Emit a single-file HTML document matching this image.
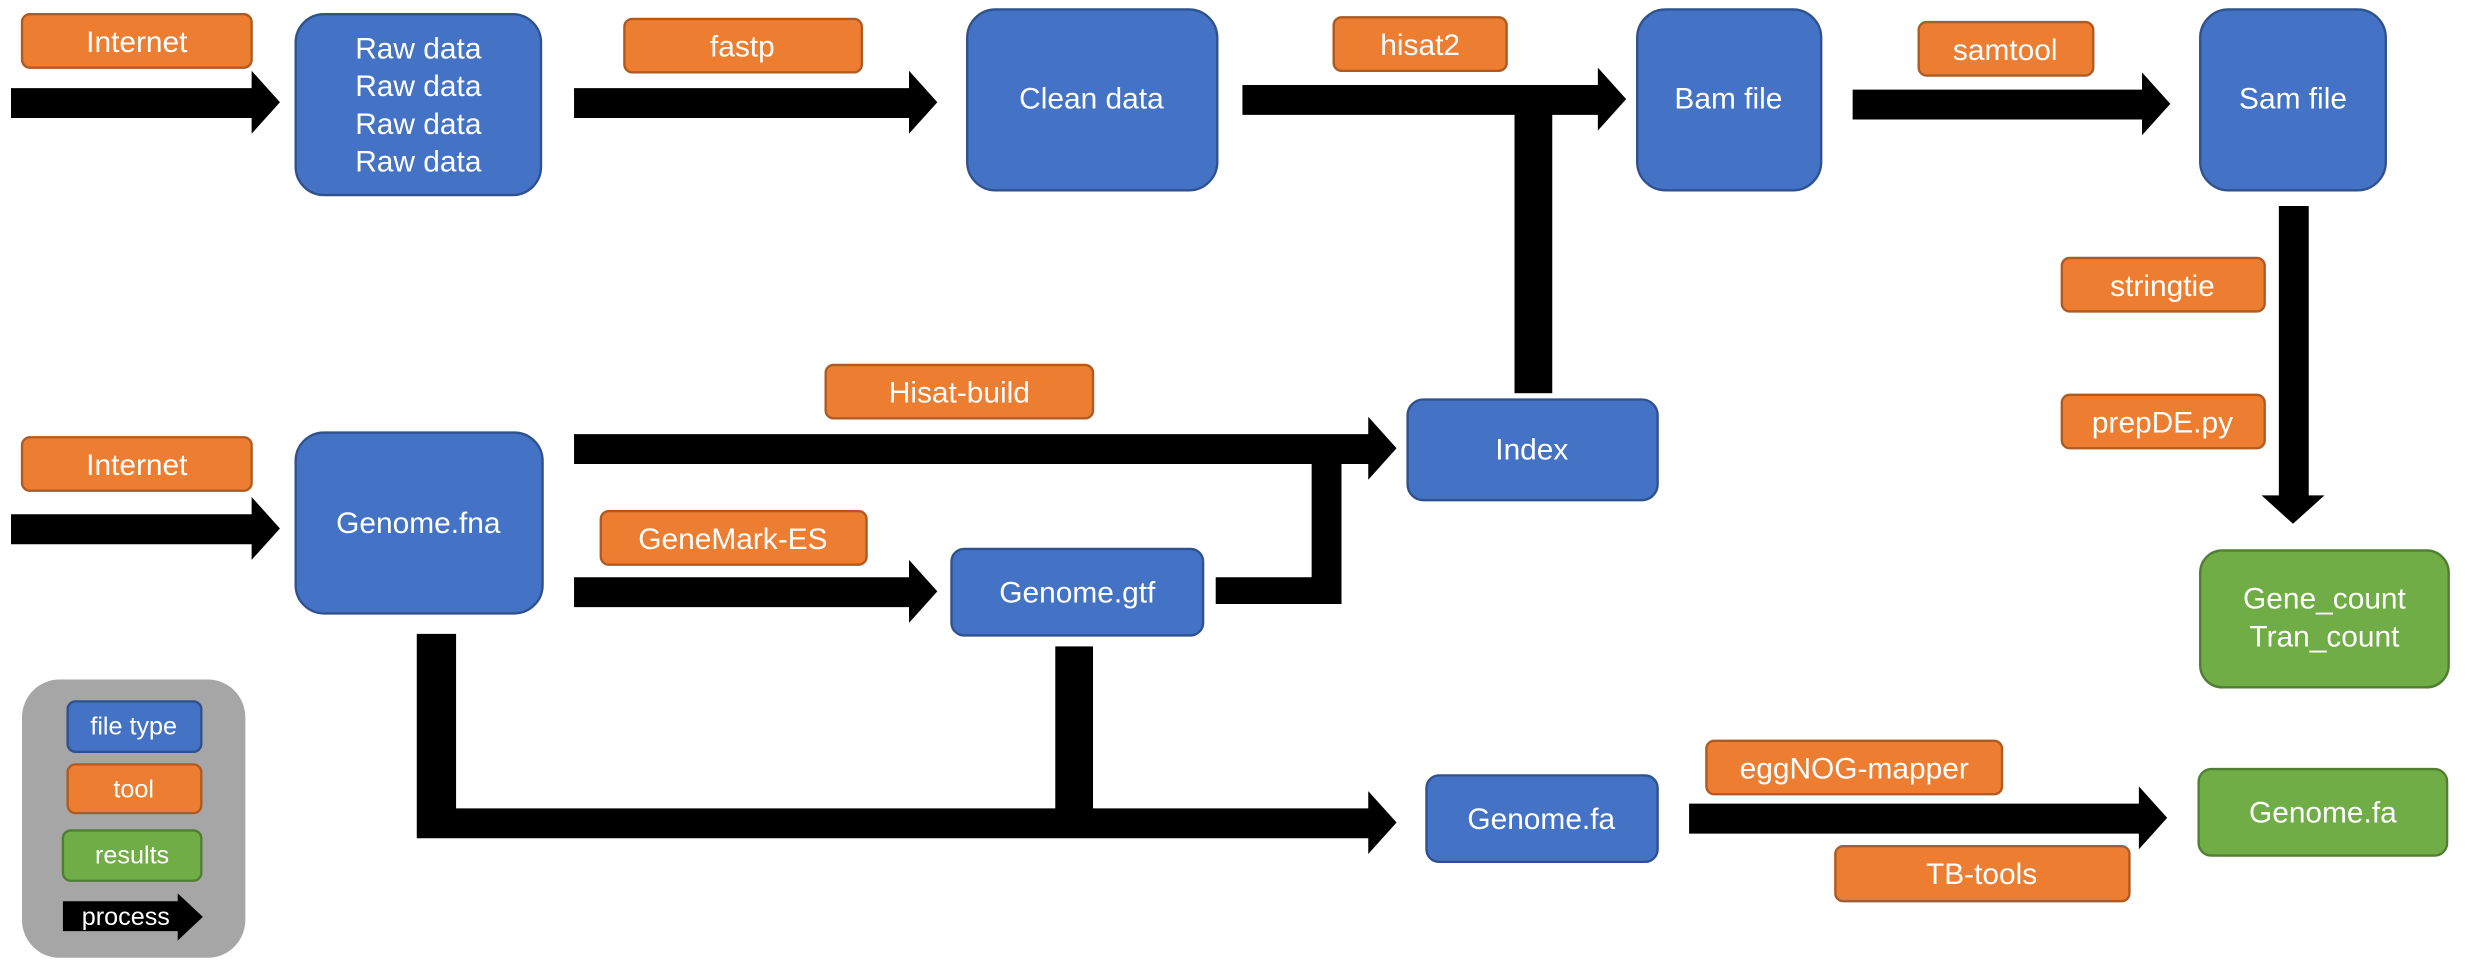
<!DOCTYPE html>
<html><head><meta charset="utf-8"><style>
html,body{margin:0;padding:0;background:#fff;}
svg{display:block;}
text{font-family:"Liberation Sans Narrow","Liberation Sans",sans-serif;fill:#fff;text-anchor:middle;dominant-baseline:central;}
.b{fill:#4472C4;stroke:#2F528F;stroke-width:1.5;}
.o{fill:#ED7D31;stroke:#AE5A21;stroke-width:1.5;}
.g{fill:#70AD47;stroke:#507E32;stroke-width:1.5;}
</style></head><body>
<svg width="2466" height="972" viewBox="0 0 1568 618" xmlns="http://www.w3.org/2000/svg">
<g font-size="19">
<!-- arrows -->
<g fill="#000">
<polygon points="7,56 160,56 160,45 178,65 160,85 160,75 7,75"/>
<polygon points="365,56 578,56 578,45 596,65 578,85 578,75 365,75"/>
<polygon points="790,54 1016,54 1016,43 1034,63 1016,83 1016,73 790,73"/>
<rect x="963" y="63" width="24" height="187"/>
<polygon points="1178,57 1362,57 1362,46 1380,66 1362,86 1362,76 1178,76"/>
<polygon points="1449,131 1468,131 1468,315 1478,315 1458,333 1438,315 1449,315"/>
<polygon points="365,276 870,276 870,265 888,285 870,305 870,295 365,295"/>
<polygon points="7,327 160,327 160,316 178,336 160,356 160,346 7,346"/>
<polygon points="365,367 578,367 578,356 596,376 578,396 578,386 365,386"/>
<polygon points="773,367 834,367 834,290 853,290 853,384 773,384"/>
<polygon points="265,403 290,403 290,514 870,514 870,503 888,523 870,543 870,533 265,533"/>
<rect x="671" y="411" width="24" height="105"/>
<polygon points="1074,511 1360,511 1360,500 1378,520 1360,540 1360,530 1074,530"/>
</g>
<!-- boxes -->
<rect class="o" x="14" y="9" width="146" height="34" rx="5"/><text x="87" y="27">Internet</text>
<rect class="b" x="188" y="9" width="156" height="115" rx="18"/>
<text x="266" y="31">Raw data</text><text x="266" y="55">Raw data</text><text x="266" y="79">Raw data</text><text x="266" y="103">Raw data</text>
<rect class="o" x="397" y="12" width="151" height="34" rx="5"/><text x="472" y="30">fastp</text>
<rect class="b" x="615" y="6" width="159" height="115" rx="18"/><text x="694" y="63">Clean data</text>
<rect class="o" x="848" y="11" width="110" height="34" rx="5"/><text x="903" y="29">hisat2</text>
<rect class="b" x="1041" y="6" width="117" height="115" rx="18"/><text x="1099" y="63">Bam file</text>
<rect class="o" x="1220" y="14" width="111" height="34" rx="5"/><text x="1275" y="32">samtool</text>
<rect class="b" x="1399" y="6" width="118" height="115" rx="18"/><text x="1458" y="63">Sam file</text>
<rect class="o" x="1311" y="164" width="129" height="34" rx="5"/><text x="1375" y="182">stringtie</text>
<rect class="o" x="1311" y="251" width="129" height="34" rx="5"/><text x="1375" y="269">prepDE.py</text>
<rect class="g" x="1399" y="350" width="158" height="87" rx="14"/><text x="1478" y="381">Gene_count</text><text x="1478" y="405">Tran_count</text>
<rect class="o" x="525" y="232" width="170" height="34" rx="5"/><text x="610" y="250">Hisat-build</text>
<rect class="b" x="895" y="254" width="159" height="64" rx="10"/><text x="974" y="286">Index</text>
<rect class="o" x="14" y="278" width="146" height="34" rx="5"/><text x="87" y="296">Internet</text>
<rect class="b" x="188" y="275" width="157" height="115" rx="18"/><text x="266" y="333">Genome.fna</text>
<rect class="o" x="382" y="325" width="169" height="34" rx="5"/><text x="466" y="343">GeneMark-ES</text>
<rect class="b" x="605" y="349" width="160" height="55" rx="8"/><text x="685" y="377">Genome.gtf</text>
<rect class="b" x="907" y="493" width="147" height="55" rx="8"/><text x="980" y="521">Genome.fa</text>
<rect class="o" x="1085" y="471" width="188" height="34" rx="5"/><text x="1179" y="489">eggNOG-mapper</text>
<rect class="o" x="1167" y="538" width="187" height="35" rx="5"/><text x="1260" y="556">TB-tools</text>
<rect class="g" x="1398" y="489" width="158" height="55" rx="8"/><text x="1477" y="517">Genome.fa</text>
<!-- legend -->
<rect x="14" y="432" width="142" height="177" rx="24" fill="#A6A6A6"/>
<rect class="b" x="43" y="446" width="85" height="32" rx="5"/><text x="85" y="462" font-size="16">file type</text>
<rect class="o" x="43" y="486" width="85" height="31" rx="5"/><text x="85" y="502" font-size="16">tool</text>
<rect class="g" x="40" y="528" width="88" height="32" rx="5"/><text x="84" y="544" font-size="16">results</text>
<polygon fill="#000" points="40,573 113,573 113,568 129,583 113,598 113,592 40,592"/>
<text x="80" y="583" font-size="16">process</text>
</g>
</svg>
</body></html>
